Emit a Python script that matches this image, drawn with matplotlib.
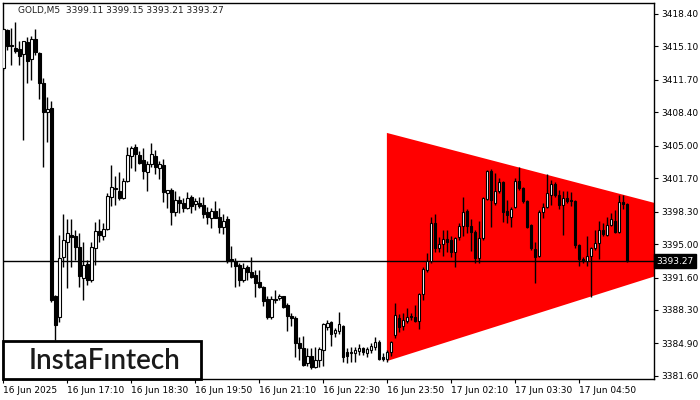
import matplotlib
matplotlib.use("Agg")
import matplotlib.pyplot as plt
from matplotlib.patches import Rectangle
from matplotlib.transforms import blended_transform_factory

# GOLD M5 candles (one per 5 minutes)
opens = [
    3412.9, 3416.8, 3415.2, 3414.9, 3414.8, 3414.3, 3415.5, 3413.8, 3415.9, 3414.4,
    3411.4, 3408.4, 3408.8, 3389.7, 3387.6, 3393.7, 3395.2, 3395.9, 3395.8, 3394.7,
    3391.5, 3393.0, 3391.3, 3394.6, 3396.3, 3395.8, 3396.5, 3399.8, 3400.6, 3400.4,
    3399.7, 3401.4, 3404.0, 3404.9, 3404.1, 3403.5, 3402.3, 3403.1, 3404.0, 3402.7,
    3403.0, 3400.2, 3400.5, 3398.3, 3399.5, 3399.2, 3398.7, 3399.8, 3399.1, 3399.2,
    3399.0, 3398.3, 3397.7, 3398.4, 3397.8, 3396.7, 3397.5, 3393.5, 3393.3, 3392.9,
    3391.3, 3392.7, 3392.2, 3391.9, 3391.1, 3390.6, 3389.4, 3387.6, 3389.4, 3389.5,
    3389.7, 3388.8, 3387.7, 3387.5, 3384.9, 3384.4, 3382.9, 3383.6, 3382.5, 3383.2,
    3384.2, 3386.6, 3387.1, 3386.0, 3386.2, 3386.7, 3384.0, 3383.9, 3383.9, 3384.1,
    3384.4, 3383.9, 3384.2, 3384.5, 3385.0, 3383.5, 3383.3, 3384.0, 3385.8, 3387.5,
    3386.7, 3387.2, 3387.7, 3387.6, 3387.2, 3389.9, 3392.4, 3393.3, 3397.1, 3394.6,
    3395.0, 3395.5, 3395.4, 3394.2, 3395.7, 3396.8, 3398.4, 3396.8, 3396.2, 3393.6,
    3395.6, 3399.6, 3402.4, 3399.2, 3400.4, 3401.3, 3398.4, 3397.8, 3398.8, 3401.4,
    3400.7, 3399.4, 3396.9, 3394.5, 3393.8, 3398.3, 3398.8, 3400.0, 3401.1, 3400.0,
    3399.0, 3399.7, 3399.5, 3399.4, 3394.9, 3393.5, 3393.3, 3393.8, 3394.6, 3395.1,
    3396.4, 3395.9, 3396.9, 3397.3, 3396.2, 3399.3, 3399.11]
highs = [
    3417.0, 3416.9, 3417.0, 3417.6, 3415.6, 3415.6, 3416.1, 3416.2, 3416.9, 3414.5,
    3411.9, 3410.0, 3409.5, 3389.8, 3395.9, 3398.1, 3397.5, 3397.5, 3396.4, 3396.1,
    3395.2, 3393.4, 3395.2, 3397.2, 3397.5, 3397.1, 3400.2, 3403.0, 3401.9, 3402.3,
    3401.7, 3404.9, 3405.0, 3405.2, 3404.5, 3404.8, 3403.4, 3405.3, 3404.6, 3403.4,
    3403.6, 3400.5, 3400.7, 3400.4, 3399.9, 3399.7, 3400.3, 3400.0, 3399.7, 3399.8,
    3399.8, 3398.8, 3398.7, 3399.4, 3398.7, 3398.1, 3397.9, 3394.8, 3393.6, 3393.1,
    3393.1, 3392.9, 3393.7, 3392.4, 3392.4, 3390.7, 3389.7, 3389.7, 3390.3, 3389.9,
    3389.7, 3389.0, 3388.0, 3387.7, 3385.6, 3385.7, 3384.4, 3384.4, 3384.5, 3384.5,
    3387.0, 3387.3, 3387.2, 3386.5, 3388.1, 3386.8, 3384.4, 3384.5, 3384.5, 3384.8,
    3384.5, 3384.5, 3384.9, 3385.6, 3385.2, 3383.9, 3384.2, 3385.1, 3389.0, 3387.9,
    3388.0, 3388.5, 3388.0, 3388.8, 3390.0, 3392.7, 3394.1, 3397.8, 3398.1, 3395.7,
    3396.4, 3396.4, 3395.8, 3395.7, 3397.1, 3399.8, 3398.6, 3397.5, 3396.4, 3397.3,
    3399.8, 3402.5, 3402.6, 3402.2, 3401.7, 3401.4, 3399.5, 3398.8, 3401.7, 3402.8,
    3400.8, 3399.5, 3397.0, 3395.2, 3398.5, 3399.2, 3402.1, 3401.5, 3401.3, 3400.5,
    3400.4, 3400.4, 3400.3, 3399.5, 3395.0, 3393.7, 3395.8, 3394.7, 3396.4, 3397.3,
    3397.1, 3397.8, 3398.2, 3398.5, 3400.0, 3400.0, 3399.15]
lows = [
    3412.7, 3414.7, 3413.2, 3414.4, 3413.2, 3405.6, 3411.4, 3411.7, 3414.2, 3409.7,
    3402.8, 3405.4, 3389.1, 3385.2, 3387.1, 3392.7, 3390.5, 3392.7, 3393.4, 3390.6,
    3389.3, 3390.8, 3391.1, 3392.9, 3395.2, 3395.4, 3396.4, 3398.9, 3399.0, 3399.5,
    3399.6, 3401.3, 3402.7, 3402.4, 3403.1, 3401.6, 3400.4, 3402.8, 3402.1, 3401.6,
    3399.3, 3398.7, 3396.9, 3397.9, 3398.2, 3398.3, 3398.6, 3398.2, 3398.5, 3398.7,
    3397.7, 3397.0, 3396.6, 3397.6, 3396.1, 3396.0, 3393.1, 3392.7, 3390.6, 3390.7,
    3391.1, 3391.3, 3391.6, 3389.6, 3390.5, 3388.7, 3387.4, 3387.4, 3389.0, 3389.3,
    3388.5, 3386.2, 3386.7, 3383.5, 3383.2, 3382.6, 3382.6, 3382.3, 3382.4, 3382.5,
    3382.6, 3386.3, 3384.6, 3385.5, 3385.9, 3383.0, 3382.9, 3383.0, 3383.0, 3383.7,
    3383.7, 3383.5, 3383.9, 3384.2, 3383.2, 3383.1, 3383.0, 3383.6, 3385.4, 3386.1,
    3386.3, 3387.0, 3387.3, 3387.1, 3386.4, 3389.3, 3392.2, 3393.1, 3394.2, 3394.2,
    3393.8, 3394.2, 3393.7, 3392.7, 3395.4, 3395.8, 3396.1, 3394.3, 3393.1, 3393.1,
    3395.4, 3399.5, 3396.7, 3399.0, 3400.2, 3397.2, 3397.1, 3396.7, 3398.7, 3400.5,
    3399.2, 3396.6, 3394.4, 3391.0, 3393.7, 3397.7, 3398.7, 3399.0, 3399.8, 3398.6,
    3395.9, 3399.2, 3398.9, 3394.6, 3392.8, 3393.1, 3392.8, 3389.6, 3394.4, 3393.5,
    3395.8, 3395.8, 3396.8, 3396.1, 3396.1, 3398.6, 3393.21]
closes = [
    3416.9, 3415.1, 3415.1, 3414.6, 3414.1, 3415.6, 3413.6, 3415.8, 3414.5, 3411.4,
    3408.4, 3408.7, 3389.3, 3386.8, 3393.6, 3395.4, 3396.1, 3395.7, 3394.7, 3391.8,
    3392.9, 3391.3, 3394.7, 3396.3, 3395.9, 3396.5, 3399.9, 3400.8, 3400.7, 3399.7,
    3401.4, 3404.1, 3404.8, 3404.2, 3403.2, 3402.4, 3403.1, 3404.2, 3402.8, 3403.1,
    3400.3, 3400.5, 3398.3, 3399.5, 3399.2, 3398.7, 3399.7, 3398.9, 3399.4, 3398.9,
    3398.1, 3397.8, 3398.4, 3397.7, 3396.7, 3397.3, 3393.3, 3393.3, 3392.8, 3391.3,
    3392.6, 3392.2, 3391.7, 3391.0, 3390.6, 3389.2, 3387.6, 3389.4, 3389.3, 3389.7,
    3388.6, 3387.7, 3387.5, 3384.9, 3384.4, 3382.7, 3383.6, 3382.5, 3383.2, 3384.3,
    3386.9, 3387.0, 3385.9, 3386.3, 3386.9, 3383.5, 3383.6, 3384.0, 3384.2, 3384.4,
    3384.0, 3384.3, 3384.6, 3385.0, 3383.3, 3383.3, 3384.0, 3385.0, 3387.8, 3386.6,
    3387.3, 3387.6, 3387.6, 3387.2, 3389.9, 3392.5, 3393.3, 3397.1, 3394.6, 3395.0,
    3395.5, 3395.2, 3394.2, 3395.6, 3396.8, 3398.3, 3396.8, 3396.2, 3393.6, 3395.6,
    3399.7, 3402.4, 3399.5, 3400.4, 3401.3, 3398.3, 3398.0, 3398.6, 3401.4, 3400.7,
    3399.4, 3396.7, 3394.6, 3393.7, 3398.3, 3398.8, 3400.2, 3401.1, 3400.0, 3399.0,
    3399.7, 3399.4, 3399.4, 3394.9, 3393.5, 3393.3, 3393.8, 3394.6, 3395.1, 3396.4,
    3396.0, 3396.9, 3397.5, 3396.2, 3399.3, 3399.1, 3393.27]

# time axis labels (every 16 bars)
time_label_bars = [0, 16, 32, 48, 64, 80, 96, 112, 128, 144]
time_labels = ["16 Jun 2025", "16 Jun 17:10", "16 Jun 18:30", "16 Jun 19:50",
               "16 Jun 21:10", "16 Jun 22:30", "16 Jun 23:50", "17 Jun 02:10",
               "17 Jun 03:30", "17 Jun 04:50"]
price_ticks = [3418.40, 3415.10, 3411.70, 3408.40, 3405.00, 3401.70,
               3398.30, 3395.00, 3391.60, 3388.30, 3384.90, 3381.60]

# symmetrical triangle pattern: start bar, top/bottom price at start, apex
tri_start_bar = 95.9
tri_top_price = 3406.3
tri_bottom_price = 3383.1
tri_apex_bar = 194.6
tri_apex_price = 3395.8

symbol = "GOLD,M5"
last_ohlc = (3399.11, 3399.15, 3393.21, 3393.27)

fig = plt.figure(figsize=(7, 4), dpi=100)
ax = fig.add_axes([3 / 700, 21 / 400, 651 / 700, 376 / 400])
ax.set_xlim(-0.1, 162.7)
ax.set_ylim(3381.28, 3419.51)

# red triangle
ax.fill([tri_start_bar, tri_apex_bar, tri_start_bar],
        [tri_top_price, tri_apex_price, tri_bottom_price],
        color="#ff0000", lw=0, zorder=1)

# last price line
ax.axhline(closes[-1], color="black", lw=1, zorder=2)

# candles
for i in range(len(opens)):
    o, h, l, c = opens[i], highs[i], lows[i], closes[i]
    ax.vlines(i, l, h, color="black", lw=1, zorder=3)
    bottom = min(o, c)
    height = max(abs(c - o), 0.06)
    fc = "white" if c > o else "black"
    ax.add_patch(Rectangle((i - 0.3, bottom), 0.6, height, facecolor=fc,
                           edgecolor="black", lw=0.8, zorder=4))

for s in ax.spines.values():
    s.set_color("black")
    s.set_linewidth(1)

ax.yaxis.tick_right()
ax.set_yticks(price_ticks)
ax.set_yticklabels(["%.2f" % p for p in price_ticks])
ax.tick_params(axis="y", length=3, width=0.8, pad=2, labelsize=6.5, colors="black")
ax.set_xticks(time_label_bars)
ax.set_xticklabels(time_labels, ha="left")
ax.tick_params(axis="x", length=3, width=0.8, pad=2, labelsize=6.5)
for lab in ax.get_xticklabels():
    lab.set_horizontalalignment("left")

# current price tag
trans = blended_transform_factory(ax.transAxes, ax.transData)
ax.text(1.004, closes[-1], "%.2f" % closes[-1], transform=trans, ha="left",
        va="center", fontsize=6.5, color="white", zorder=10, clip_on=False,
        bbox=dict(boxstyle="square,pad=0.25", fc="black", ec="black"))

# header
fig.text(18 / 700, 1 - 11 / 400,
         "%s  %.2f %.2f %.2f %.2f" % ((symbol,) + last_ohlc),
         fontsize=6.5, va="center", ha="left", color="#202020")

# logo box
ax.add_patch(Rectangle((0.0, 0.0), 198 / 651, 38 / 376, transform=ax.transAxes,
                       facecolor="white", edgecolor="black", lw=2, zorder=20,
                       clip_on=False))
ax.text(101 / 651, 18 / 376, "InstaF\u0131ntech", transform=ax.transAxes,
        ha="center", va="center", fontsize=20, family="Lato",
        fontweight="semibold", color="#1a1a1a", zorder=21)

fig.savefig("out.png", dpi=100)
